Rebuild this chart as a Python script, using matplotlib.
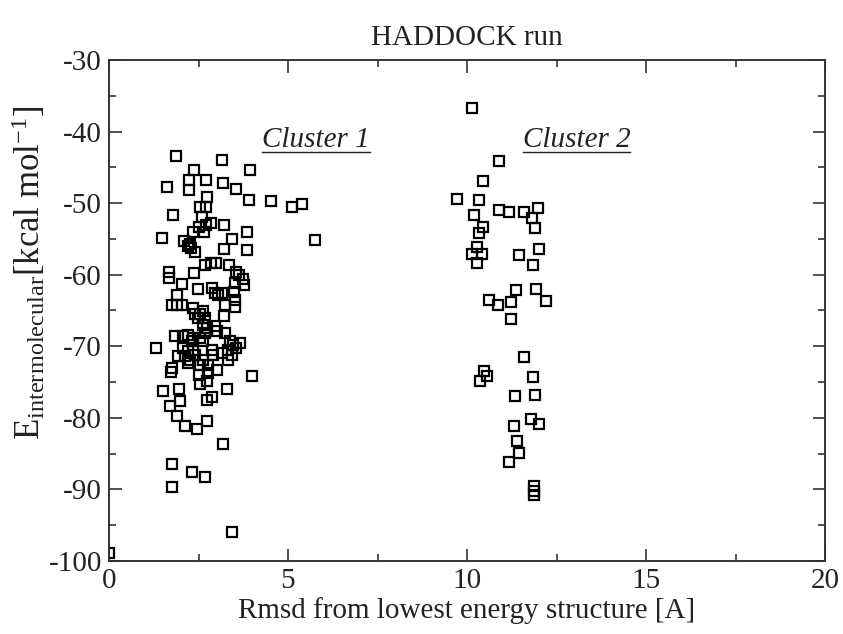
import numpy as np
import matplotlib
matplotlib.use("Agg")
import matplotlib.pyplot as plt
from matplotlib.lines import Line2D

plt.rcParams['font.family'] = 'Liberation Serif'
plt.rcParams['mathtext.fontset'] = 'custom'
plt.rcParams['mathtext.rm'] = 'Liberation Serif'
plt.rcParams['mathtext.it'] = 'Liberation Serif:italic'

# cluster 1 (rmsd, energy)
c1_rmsd = [1.87, 3.17, 3.93, 2.37, 1.62, 2.24, 2.24, 2.71, 3.19, 3.56, 3.90, 4.52, 2.73,
           2.55, 2.70, 2.60, 2.70, 2.85, 2.50, 1.79, 3.22, 2.36, 2.64, 1.47, 3.43, 3.85,
           2.10, 2.25, 2.30, 2.40, 2.20, 3.21, 3.85, 5.10, 5.38, 5.75,
           1.68, 1.68, 2.38, 2.68, 2.85, 2.98, 3.36, 3.55, 3.64, 3.73, 3.78, 3.52, 2.05,
           2.48, 2.87, 2.96, 3.05, 3.15, 3.49, 3.52, 3.52, 1.91, 1.77, 1.91, 2.03, 3.24,
           2.36, 2.40, 2.54, 2.63, 2.49, 2.68, 3.21, 2.63, 2.73, 2.68, 2.96, 3.01, 3.24,
           1.84, 2.08, 2.22, 2.31, 2.36, 2.54, 2.63, 3.38, 3.47, 3.66, 3.33, 3.43, 1.30,
           2.08, 2.22, 2.36, 2.12, 2.26, 2.40, 2.87, 2.91, 3.15, 1.94, 2.77, 2.54, 1.75,
           2.22, 2.63, 3.01, 3.33, 3.55,
           1.73, 2.50, 2.54, 2.73, 2.77, 3.99, 1.50, 1.96, 1.98, 2.75, 2.87, 3.30, 1.70,
           1.89, 2.12, 2.47, 2.75, 3.19, 1.77, 2.33, 2.68, 1.76, 3.44, 0.00]
c1_energy = [-43.4, -44.0, -45.4, -45.4, -47.7, -46.8, -48.1, -46.7, -47.2, -48.0, -49.6, -49.7, -49.1,
             -50.6, -50.6, -51.9, -53.0, -52.8, -53.3, -51.6, -53.0, -54.0, -54.0, -54.9, -55.0, -54.1,
             -55.3, -55.7, -56.3, -56.8, -56.0, -56.4, -56.5, -50.5, -50.1, -55.1,
             -59.6, -60.4, -59.8, -58.6, -58.3, -58.3, -58.6, -59.6, -60.0, -60.6, -61.4, -61.2, -61.3,
             -62.0, -61.9, -62.6, -62.8, -62.6, -62.4, -63.5, -64.5, -62.8, -64.2, -64.2, -64.2, -64.2,
             -64.7, -65.5, -65.5, -65.1, -66.1, -66.1, -65.8, -67.0, -67.5, -68.2, -67.2, -67.9, -68.2,
             -68.6, -68.6, -68.4, -69.3, -68.9, -68.9, -69.3, -69.3, -69.8, -69.6, -70.5, -71.2, -70.3,
             -70.3, -70.7, -70.5, -71.4, -71.9, -71.2, -70.5, -71.2, -71.0, -71.4, -72.6, -72.6, -73.1,
             -72.4, -71.9, -73.3, -71.9, -70.2,
             -73.6, -74.0, -75.2, -74.9, -73.8, -74.1, -76.3, -75.9, -77.6, -77.5, -77.1, -75.9, -78.3,
             -79.8, -81.1, -81.6, -80.4, -83.7, -86.5, -87.6, -88.3, -89.6, -96.0, -98.9]

# cluster 2
c2_rmsd = [10.13, 10.89, 10.46, 9.73, 10.34, 10.89, 11.18, 11.59, 11.97, 11.81, 11.90, 10.20,
           10.46, 10.34, 10.27, 10.15, 10.41, 10.29, 11.46, 12.02, 11.85, 11.37, 11.93, 12.20,
           10.61, 10.87, 11.22, 11.22,
           11.60, 10.48, 10.55, 10.36, 11.83, 11.34, 11.90, 11.79, 12.02, 11.32, 11.39, 11.46,
           11.17, 11.87, 11.87, 11.87]
c2_energy = [-36.7, -44.1, -46.9, -49.4, -49.5, -50.9, -51.3, -51.3, -50.7, -52.1, -53.5, -51.6,
             -53.4, -54.2, -56.1, -57.1, -57.1, -58.4, -57.2, -56.4, -58.6, -62.1, -62.0, -63.7,
             -63.5, -64.2, -63.8, -66.2,
             -71.5, -73.4, -74.2, -74.9, -74.3, -76.9, -76.8, -80.2, -80.9, -81.2, -83.3, -84.9,
             -86.1, -89.5, -90.2, -90.8]

cluster_labels = ['Cluster 1', 'Cluster 2']
cluster_label_x = [5.78, 13.06]
cluster_label_y = -41.2

rmsd = np.array(c1_rmsd + c2_rmsd)
energy = np.array(c1_energy + c2_energy)

fig = plt.figure(figsize=(8.43, 6.34), dpi=100)
ax = fig.add_axes([109 / 843, 1 - 561 / 634, 716 / 843, 501 / 634])

ax.plot(rmsd, energy, linestyle='none', marker='s', markersize=7.5,
        markerfacecolor='none', markeredgecolor='black', markeredgewidth=1.6)

ax.set_xlim(0, 20)
ax.set_ylim(-100, -30)
ax.set_xticks([0, 5, 10, 15, 20])
ax.set_xticks(np.arange(0, 20.1, 2.5), minor=True)
ax.set_yticks(np.arange(-100, -29, 10))
ax.set_yticks(np.arange(-100, -29, 5), minor=True)
ax.set_yticklabels(['-%d' % abs(v) for v in range(-100, -29, 10)])
ax.tick_params(which='both', direction='in', top=True, right=True, width=1.2,
               color='#333333', labelsize=21, labelcolor='#222222')
ax.tick_params(which='major', length=9, pad=5)
ax.tick_params(which='minor', length=5)
for s in ax.spines.values():
    s.set_linewidth(1.4)
    s.set_color('#333333')

ax.set_title('HADDOCK run', fontsize=21, pad=11, color='#222222')
ax.set_xlabel('Rmsd from lowest energy structure [A]', fontsize=21, labelpad=2,
              color='#222222')
ax.set_ylabel(r'$\mathrm{E_{intermolecular}[kcal\ mol^{-1}]}$', fontsize=25,
              color='#222222')
ax.yaxis.set_label_coords(-0.086, 0.575)

texts = []
for lab, lx in zip(cluster_labels, cluster_label_x):
    t = ax.text(lx, cluster_label_y, lab, fontsize=21, style='italic',
                ha='center', va='center', color='#222222')
    texts.append(t)

# underline the cluster labels
fig.canvas.draw()
inv = fig.transFigure.inverted()
for t in texts:
    bb = t.get_window_extent()
    (x0, y0), (x1, y1) = inv.transform([(bb.x0, bb.y0), (bb.x1, bb.y0)])
    fig.add_artist(Line2D([x0, x1], [y0 + 0.002, y1 + 0.002], transform=fig.transFigure,
                          color='#222222', linewidth=1.0))

fig.savefig('out.png', dpi=100)
